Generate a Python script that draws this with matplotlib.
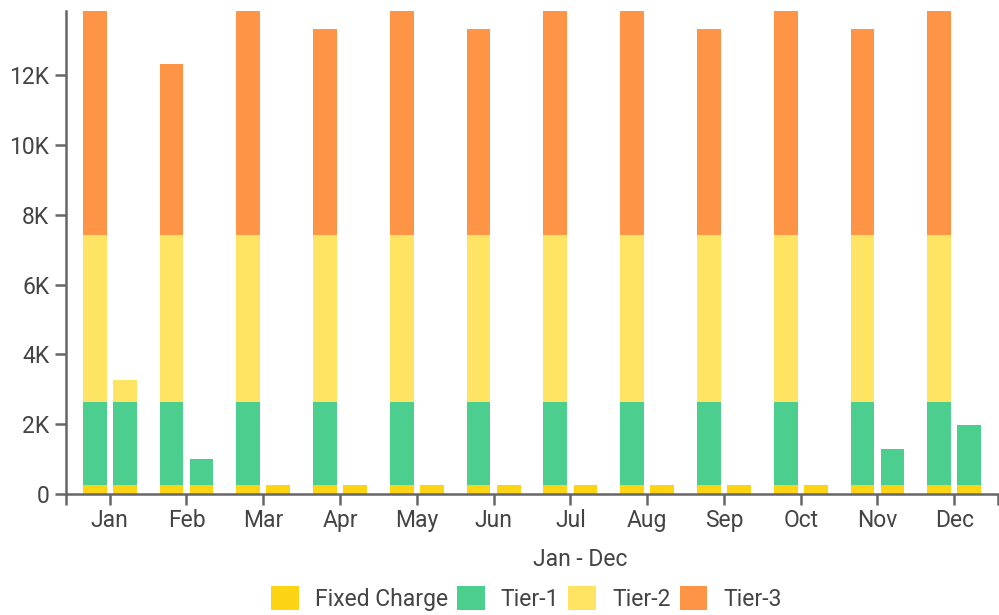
import numpy as np
from matplotlib import pyplot as plt
from matplotlib.ticker import FuncFormatter

plt.rcParams['font.family'] = ['Roboto', 'DejaVu Sans']

months = ['Jan', 'Feb', 'Mar', 'Apr', 'May', 'Jun',
          'Jul', 'Aug', 'Sep', 'Oct', 'Nov', 'Dec']

# first bar of each month
fixed_a = [250] * 12
tier1_a = [2390] * 12
tier2_a = [4770] * 12
tier3_a = [6430, 4910, 6430, 5910, 6430, 5910, 6430, 6430, 5910, 6430, 5910, 6430]

# second bar of each month
fixed_b = [250] * 12
tier1_b = [2390, 750, 0, 0, 0, 0, 0, 0, 0, 0, 1040, 1730]
tier2_b = [630, 0, 0, 0, 0, 0, 0, 0, 0, 0, 0, 0]
tier3_b = [0] * 12

series = ['Fixed Charge', 'Tier-1', 'Tier-2', 'Tier-3']
colors = ['#FCD413', '#4BCE8E', '#FEE462', '#FE9546']

fig = plt.figure(figsize=(9.99, 6.15), dpi=100)
ax = fig.add_axes([0.066, 0.197, 0.933, 0.785])

x = np.arange(len(months))
w = 0.31
off = 0.196

for xs, stack in [(x - off, [fixed_a, tier1_a, tier2_a, tier3_a]),
                  (x + off, [fixed_b, tier1_b, tier2_b, tier3_b])]:
    bottom = np.zeros(len(months))
    for vals, c, name in zip(stack, colors, series):
        vals = np.array(vals, dtype=float)
        ax.bar(xs, vals, w, bottom=bottom, color=c, label=name if xs[0] < 0 else None,
               linewidth=0)
        bottom += vals

ax.set_xlim(-0.57, 11.57)
ax.set_ylim(0, 13840)
ax.set_xticks(x)
ax.set_xticklabels(months)
ax.set_xticks([-0.57, 11.57], minor=True)
ax.set_yticks(np.arange(0, 13000, 2000))
ax.yaxis.set_major_formatter(FuncFormatter(lambda v, p: '0' if v == 0 else f'{int(v/1000)}K'))

for s in ['top', 'right']:
    ax.spines[s].set_visible(False)
for s in ['left', 'bottom']:
    ax.spines[s].set_color('#666666')
    ax.spines[s].set_linewidth(1.8)
ax.tick_params(axis='both', which='both', colors='#666666', width=1.8, length=8,
               labelcolor='#444444', labelsize=16.5)
ax.tick_params(axis='x', pad=3)
ax.tick_params(axis='y', pad=4)

fig.text(0.581, 0.091, 'Jan - Dec', ha='center', va='center', fontsize=16.5, color='#444444')

handles, labels = ax.get_legend_handles_labels()
fig.legend(handles, labels, loc='center', bbox_to_anchor=(0.527, 0.027), ncol=4,
           frameon=False, fontsize=16.5, handlelength=1.2, handleheight=1.2,
           handletextpad=0.7, columnspacing=0.4, labelcolor='#444444',
           borderpad=0, borderaxespad=0)

fig.savefig('out.png', dpi=100)
